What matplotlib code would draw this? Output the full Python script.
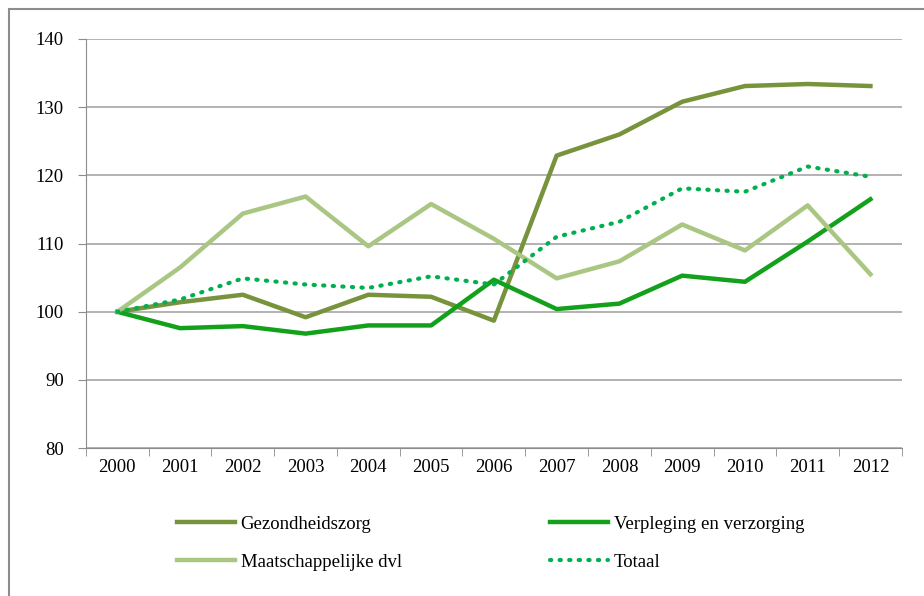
import matplotlib.pyplot as plt
from matplotlib.patches import Rectangle

# Index (2000 = 100)
YEARS = ['2000', '2001', '2002', '2003', '2004', '2005', '2006',
         '2007', '2008', '2009', '2010', '2011', '2012']

GEZONDHEIDSZORG = [100, 101.4, 102.5, 99.2, 102.5, 102.2, 98.7,
                   122.9, 126.0, 130.8, 133.1, 133.4, 133.1]
VERPLEGING = [100, 97.6, 97.9, 96.8, 98.0, 98.0, 104.7,
              100.4, 101.2, 105.3, 104.4, 110.3, 116.5]
MAATSCHAPPELIJK = [100, 106.5, 114.4, 116.9, 109.6, 115.8, 110.7,
                   104.9, 107.4, 112.8, 109.0, 115.6, 105.5]
TOTAAL = [100, 101.8, 104.9, 104.0, 103.5, 105.2, 104.0,
          111.0, 113.2, 118.1, 117.6, 121.3, 119.8]

FONT = 'Liberation Serif'
plt.rcParams['font.family'] = FONT

fig = plt.figure(figsize=(9.24, 5.96), dpi=100)
ax = fig.add_axes([0.093, 0.248, 0.883, 0.6866])

# outer chart frame (partly outside the image)
fig.patches.append(Rectangle((9 / 924, -0.05), 1.0, 1 - 9 / 596 + 0.05,
                             transform=fig.transFigure, fill=False,
                             edgecolor='#8c8c8c', linewidth=1.5))

x = range(len(YEARS))
ax.plot(x, GEZONDHEIDSZORG, color='#77933C', linewidth=3.2, label='Gezondheidszorg')
ax.plot(x, VERPLEGING, color='#13A01A', linewidth=3.2, label='Verpleging en verzorging')
ax.plot(x, MAATSCHAPPELIJK, color='#A9C682', linewidth=3.2, label='Maatschappelijke dvl')
ax.plot(x, TOTAAL, color='#00B050', linewidth=3.0, linestyle=(0, (0.3, 2.0)),
        dash_capstyle='round', label='Totaal')

ax.set_xlim(-0.5, len(YEARS) - 0.5)
ax.set_ylim(80, 140)
ax.set_yticks(range(80, 141, 10))
ax.set_xticks(x)
ax.set_xticklabels(YEARS)
ax.set_xticks([i - 0.5 for i in range(len(YEARS) + 1)], minor=True)
ax.tick_params(axis='x', which='major', length=0, pad=8, labelsize=13.5)
ax.tick_params(axis='x', which='minor', length=6, color='#8c8c8c')
ax.tick_params(axis='y', length=6, color='#8c8c8c', labelsize=13.5, pad=10)

ax.grid(True, axis='y', color='#a6a6a6', linewidth=1.2)
ax.set_axisbelow(True)
for side in ['top', 'right']:
    ax.spines[side].set_visible(False)
ax.spines['left'].set_color('#8c8c8c')
ax.spines['bottom'].set_color('#8c8c8c')

handles, labels = ax.get_legend_handles_labels()
order = [0, 2, 1, 3]
fig.legend([handles[i] for i in order], [labels[i] for i in order],
           ncol=2, frameon=False, fontsize=13.5,
           loc='upper left', bbox_to_anchor=(160 / 924, 1 - 499 / 596),
           handlelength=3.1, handletextpad=0.3, columnspacing=7.9,
           labelspacing=1.1)

plt.savefig('out.png', dpi=100)
